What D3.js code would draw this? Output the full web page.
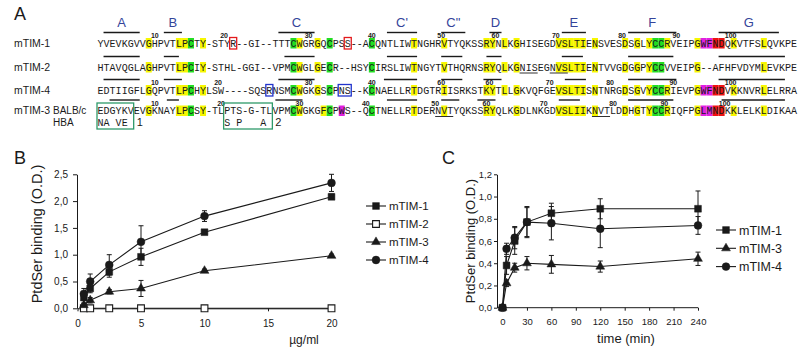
<!DOCTYPE html>
<html><head><meta charset="utf-8">
<script src="https://cdn.jsdelivr.net/npm/d3@7"></script>
<style>body{margin:0;background:#fff} svg{display:block}</style>
</head><body><svg id="c" width="800" height="351"></svg>
<script>
// ---------------- DATA ----------------
const rowNames = ["mTIM-1", "mTIM-2", "mTIM-4", "mTIM-3"];
const sequences = [
  "YVEVKGVVGHPVTLPCTY-STYR--GI--TTTCWGRGQCPSS--ACQNTLIWTNGHRVTYQKSSRYNLKGHISEGDVSLTIENSVESDSGLYCCRVEIPGWFNDQKVTFSLQVKPE",
  "HTAVQGLAGHPVTLPCIY-STHL-GGI--VPMCWGLGECR--HSYCIRSLIWTNGYTVTHQRNSRYQLKGNISEGNVSLTIENTVVGDGGPYCCVVEIPG--AFHFVDYMLEVKPE",
  "EDTIIGFLGQPVTLPCHYLSW----SQSRNSMCWGKGSCPNS--KCNAELLRTDGTRIISRKSTKYTLLGKVQFGEVSLTISNTNRGDSGVYCCRIEVPGWFNDVKKNVRLELRRA",
  "EDGYKVEVGKNAYLPCSY-TLPTS-G-TLVPMCWGKGFCPWS--QCTNELLRTDERNVTYQKSSRYQLKGDLNKGDVSLIIKNVTLDDHGTYCCRIQFPGLMNDKKLELKLDIKAA"
];
const hbaVariants = [[1, "NA VE"], [22, "S P   A"]];
const hbaBoxes = [[1, 6, "1"], [22, 29, "2"]];
const segLabels = ["A", "B", "C", "C'", "C\"", "D", "E", "F", "G"];
const segBars = [
  [[1,7],[11,14],[30,36],[48,53],[57,61],[65,67],[77,81],[88,96],[103,113]],
  [[1,7],[11,13.5],[31,36],[48,53],[57,60.5],[64.5,67],[77,80.5],[88,95.5],[103,114]],
  [[1,7],[11,14],[30,36],[47.5,53],[57,60.5],[64,67],[77.5,81],[88,96],[103,114]],
  [[2,7],[11.5,13.5],[29.5,34],[48,53],[57,60],[63,66],[76.5,80],[88,95.5],[103.5,114]]
];
const posNumbers = [
  [[9.5,"10"],[21,"20"],[35,"30"],[45.5,"40"],[57,"50"],[66,"60"],[76,"70"],[87,"80"],[96,"90"],[105,"100"]],
  [],
  [[9.5,"10"],[20,"20"],[35,"30"],[45.5,"40"],[57,"60"],[65,"60"],[75,"70"],[85,"80"],[95.5,"90"],[105,"100"]],
  [[9.5,"10"],[20.5,"20"],[33.5,"30"],[44.5,"40"],[56,"50"],[64.5,"60"],[74,"70"],[85.5,"80"],[94,"90"],[104,"100"]]
];
const yellowPos = [
  [9,14,15,18,34,37,53,58,65,66,68,70,77,78,79,80,81,83,88,90,92,95,100,106,111],
  [9,14,15,18,34,37,53,58,65,66,68,70,77,78,79,80,81,83,88,90,92,100,111],
  [9,14,15,18,34,37,53,58,65,66,68,70,77,78,79,80,81,83,88,90,92,95,100,106,111],
  [9,14,15,18,34,38,53,58,65,66,70,77,78,79,80,81,83,88,90,92,95,100,106,111]
];
const greenPos = [16,33,39,46,93,94];
const magentaPos = [[101,102], [], [101,102], [41,101,102]];
const redPos = [[103,104], [], [103,104], [103,104]];
const redBoxes = [[0,23,23],[0,42,42]];
const blueBoxes = [[2,29,29],[2,41,42]];
const underlines = [[1,71,73],[1,76,78],[3,57,59],[3,83,85]];

// Panel B
const concB = [0.5, 1, 2.5, 5, 10, 20];
const bTIM1 = [0.20, 0.37, 0.68, 0.96, 1.42, 2.08];
const bTIM1err = [0.10, 0.08, 0.10, 0.16, 0.04, 0.05];
const bTIM2 = [0, 0, 0, 0, 0, 0];
const bTIM2err = [0, 0, 0, 0, 0, 0];
const bTIM3 = [0.06, 0.15, 0.31, 0.37, 0.70, 0.98];
const bTIM3err = [0.03, 0.05, 0.04, 0.15, 0.03, 0.03];
const bTIM4 = [0.27, 0.50, 0.81, 1.24, 1.72, 2.34];
const bTIM4err = [0.10, 0.14, 0.19, 0.30, 0.10, 0.16];
const bTicksX = [0, 5, 10, 15, 20];
const bTicksY = [0, 0.5, 1, 1.5, 2, 2.5];

// Panel C
const timeC = [0, 5, 15, 30, 60, 120, 240];
const cTIM1 = [0, 0.38, 0.60, 0.77, 0.85, 0.89, 0.89];
const cTIM1err = [0, 0.08, 0.12, 0.14, 0.09, 0.09, 0.16];
const cTIM3 = [0, 0.22, 0.36, 0.40, 0.39, 0.37, 0.44];
const cTIM3err = [0, 0.03, 0.04, 0.06, 0.08, 0.05, 0.06];
const cTIM4 = [0, 0.53, 0.63, 0.77, 0.76, 0.71, 0.74];
const cTIM4err = [0, 0.05, 0.10, 0.13, 0.15, 0.17, 0.08];
const cTicksX = [0, 30, 60, 90, 120, 150, 180, 210, 240];
const cTicksY = [0, 0.2, 0.4, 0.6, 0.8, 1.0, 1.2];

// ---------------- DRAW ----------------
const svg = d3.select("#c");
const sans = "Liberation Sans, Arial, sans-serif";
const mono = "Liberation Mono, Courier New, monospace";
const ink = "#1a1a1a";

// ===== Panel A =====
svg.append("text").attr("x", 14).attr("y", 20).attr("font-family", sans)
  .attr("font-size", 18).attr("fill", ink).text("A");

const x0 = 97.5, cw = 6.03;
const colX = c => x0 + c * cw;
const posL = p => colX(p - 1);
const baselines = [46.5, 70.5, 93.5, 114];
const A = svg.append("g");

segBars[0].forEach((b, i) => {
  A.append("text").attr("x", (colX(b[0]) + colX(b[1])) / 2).attr("y", 27)
    .attr("text-anchor", "middle").attr("font-family", sans).attr("font-size", 13)
    .attr("fill", "#34449a").text(segLabels[i]);
});

sequences.forEach((seq, r) => {
  const yb = baselines[r];
  const hl = (pos, color) => {
    A.append("rect").attr("x", posL(pos)).attr("y", yb - 8.5)
      .attr("width", cw).attr("height", 10.5).attr("fill", color);
  };
  yellowPos[r].forEach(p => hl(p, "#f7f700"));
  greenPos.forEach(p => hl(p, "#22dd22"));
  magentaPos[r].forEach(p => hl(p, "#e020e0"));
  redPos[r].forEach(p => hl(p, "#ee1111"));

  segBars[r].forEach(b => {
    A.append("line").attr("x1", colX(b[0])).attr("x2", colX(b[1]))
      .attr("y1", yb - 14).attr("y2", yb - 14).attr("stroke", ink).attr("stroke-width", 1.4);
  });
  const g = A.append("g").attr("font-family", mono).attr("font-size", 10).attr("fill", ink)
    .attr("text-anchor", "middle");
  seq.split("").forEach((ch, i) => {
    g.append("text").attr("x", colX(i + 0.5)).attr("y", yb).text(ch);
  });
  posNumbers[r].forEach(([c, t]) => {
    A.append("text").attr("x", colX(c)).attr("y", yb - 8.5).attr("text-anchor", "middle")
      .attr("font-family", sans).attr("font-size", 7).attr("font-weight", "bold")
      .attr("fill", ink).text(t);
  });
  A.append("text").attr("x", 14).attr("y", yb).attr("font-family", sans)
    .attr("font-size", 10.5).attr("fill", ink).text(rowNames[r]);
});

const box = (r, p1, p2, color) => {
  A.append("rect").attr("x", posL(p1) - 0.5).attr("y", baselines[r] - 9)
    .attr("width", (p2 - p1 + 1) * cw + 1).attr("height", 11.5)
    .attr("fill", "none").attr("stroke", color).attr("stroke-width", 1.3);
};
redBoxes.forEach(([r, a, b]) => box(r, a, b, "#e31a1c"));
blueBoxes.forEach(([r, a, b]) => box(r, a, b, "#2233cc"));
underlines.forEach(([r, a, b]) => {
  A.append("line").attr("x1", posL(a)).attr("x2", posL(b + 1))
    .attr("y1", baselines[r] + 2.5).attr("y2", baselines[r] + 2.5)
    .attr("stroke", ink).attr("stroke-width", 0.9);
});

A.append("text").attr("x", 53).attr("y", baselines[3]).attr("font-family", sans)
  .attr("font-size", 10).attr("fill", ink).text("BALB/c");
A.append("text").attr("x", 53).attr("y", baselines[3] + 11.5).attr("font-family", sans)
  .attr("font-size", 10).attr("fill", ink).text("HBA");
const g2 = A.append("g").attr("font-family", mono).attr("font-size", 10).attr("fill", ink)
  .attr("text-anchor", "middle");
hbaVariants.forEach(([p, s]) => {
  s.split("").forEach((ch, i) => {
    if (ch !== " ") g2.append("text").attr("x", posL(p + i) + cw / 2)
      .attr("y", baselines[3] + 11.5).text(ch);
  });
});
hbaBoxes.forEach(([a, b, lab]) => {
  A.append("rect").attr("x", posL(a) - 0.5).attr("y", baselines[3] - 11)
    .attr("width", (b - a + 1) * cw + 0.5).attr("height", 26)
    .attr("fill", "none").attr("stroke", "#2e9a6a").attr("stroke-width", 1.3);
  A.append("text").attr("x", posL(b + 1) + 3).attr("y", baselines[3] + 11.5)
    .attr("font-family", sans).attr("font-size", 11).attr("fill", ink).text(lab);
});

// ===== shared plotting helpers =====
const fmt = d => d3.format(".1f")(d).replace(".", ",");
const symbolOf = {
  square: d3.symbol().type(d3.symbolSquare).size(46),
  circle: d3.symbol().type(d3.symbolCircle).size(48),
  triangle: d3.symbol().type(d3.symbolTriangle).size(34)
};

function drawSeries(g, xs, ys, errs, x, y, shape, open) {
  const pts = xs.map((v, i) => [v, ys[i], errs[i]]);
  pts.forEach(([a, b, e]) => {
    if (e > 0) {
      const cx = x(a);
      g.append("line").attr("x1", cx).attr("x2", cx).attr("y1", y(b - e)).attr("y2", y(b + e))
        .attr("stroke", ink).attr("stroke-width", 1);
      [b - e, b + e].forEach(v => g.append("line").attr("x1", cx - 2.5).attr("x2", cx + 2.5)
        .attr("y1", y(v)).attr("y2", y(v)).attr("stroke", ink).attr("stroke-width", 1));
    }
  });
  g.append("path").datum(pts).attr("fill", "none").attr("stroke", ink).attr("stroke-width", 1.1)
    .attr("d", d3.line().x(d => x(d[0])).y(d => y(d[1])));
  g.selectAll(null).data(pts).enter().append("path")
    .attr("transform", d => `translate(${x(d[0])},${y(d[1])})`)
    .attr("d", symbolOf[shape]())
    .attr("fill", open ? "#fff" : ink).attr("stroke", ink).attr("stroke-width", open ? 1.1 : 0.5);
}

function legend(g, items, lx, ly, dy, fs) {
  items.forEach(([name, shape, open], i) => {
    const yy = ly + i * dy;
    g.append("line").attr("x1", lx).attr("x2", lx + 20).attr("y1", yy).attr("y2", yy)
      .attr("stroke", ink).attr("stroke-width", 1.1);
    g.append("path").attr("transform", `translate(${lx + 10},${yy})`).attr("d", symbolOf[shape]())
      .attr("fill", open ? "#fff" : ink).attr("stroke", ink).attr("stroke-width", open ? 1.1 : 0.5);
    g.append("text").attr("x", lx + 23).attr("y", yy + fs * 0.36).attr("font-family", sans)
      .attr("font-size", fs).attr("fill", ink).text(name);
  });
}

function styleAxis(sel, fs) {
  sel.selectAll("path.domain").attr("stroke", ink);
  sel.selectAll(".tick line").attr("stroke", ink);
  sel.selectAll(".tick text").attr("font-family", sans).attr("font-size", fs).attr("fill", ink);
}

// ===== Panel B =====
const B = svg.append("g");
const xB = d3.scaleLinear().domain([0, 20]).range([77.5, 331.5]);
const yB = d3.scaleLinear().domain([0, 2.5]).range([308.3, 174.3]);
B.append("text").attr("x", 14).attr("y", 164).attr("font-family", sans)
  .attr("font-size", 18).attr("fill", ink).text("B");
const axYB = B.append("g").attr("transform", "translate(77,0)")
  .call(d3.axisLeft(yB).tickValues(bTicksY).tickFormat(fmt).tickSize(4).tickSizeOuter(0).tickPadding(5));
styleAxis(axYB, 10);
const axXB = B.append("g").attr("transform", "translate(0,308.3)")
  .call(d3.axisBottom(xB).tickValues(bTicksX).tickSize(3).tickSizeOuter(0).tickPadding(9));
styleAxis(axXB, 10);
B.append("text").attr("transform", "translate(42,234) rotate(-90)").attr("text-anchor", "middle")
  .attr("font-family", sans).attr("font-size", 14.5).attr("fill", ink).text("PtdSer  binding (O.D.)");
B.append("text").attr("x", 304).attr("y", 344).attr("text-anchor", "middle")
  .attr("font-family", sans).attr("font-size", 12).attr("fill", ink).text("µg/ml");
drawSeries(B, concB, bTIM2, bTIM2err, xB, yB, "square", true);
drawSeries(B, concB, bTIM3, bTIM3err, xB, yB, "triangle", false);
drawSeries(B, concB, bTIM1, bTIM1err, xB, yB, "square", false);
drawSeries(B, concB, bTIM4, bTIM4err, xB, yB, "circle", false);
legend(B, [["mTIM-1","square",false],["mTIM-2","square",true],["mTIM-3","triangle",false],["mTIM-4","circle",false]],
  366, 206, 18, 11.5);

// ===== Panel C =====
const C = svg.append("g");
const xC = d3.scaleLinear().domain([0, 240]).range([502.5, 698]);
const yC = d3.scaleLinear().domain([0, 1.2]).range([307.7, 174.3]);
C.append("text").attr("x", 442).attr("y", 164).attr("font-family", sans)
  .attr("font-size", 18).attr("fill", ink).text("C");
const axYC = C.append("g").attr("transform", "translate(497,0)")
  .call(d3.axisLeft(yC).tickValues(cTicksY).tickFormat(fmt).tickSize(3).tickSizeOuter(0).tickPadding(2));
styleAxis(axYC, 9.5);
C.append("line").attr("x1", 497).attr("x2", 698).attr("y1", 307.7).attr("y2", 307.7).attr("stroke", ink);
const axXC = C.append("g").attr("transform", "translate(0,307.7)")
  .call(d3.axisBottom(xC).tickValues(cTicksX).tickSize(3).tickSizeOuter(0).tickPadding(8));
axXC.select("path.domain").remove();
styleAxis(axXC, 9.5);
C.append("text").attr("transform", "translate(475,241) rotate(-90)").attr("text-anchor", "middle")
  .attr("font-family", sans).attr("font-size", 13).attr("fill", ink).text("PtdSer binding (O.D.)");
C.append("text").attr("x", 626).attr("y", 343).attr("text-anchor", "middle")
  .attr("font-family", sans).attr("font-size", 13).attr("fill", ink).text("time (min)");
drawSeries(C, timeC, cTIM3, cTIM3err, xC, yC, "triangle", false);
drawSeries(C, timeC, cTIM4, cTIM4err, xC, yC, "circle", false);
drawSeries(C, timeC, cTIM1, cTIM1err, xC, yC, "square", false);
legend(C, [["mTIM-1","square",false],["mTIM-3","triangle",false],["mTIM-4","circle",false]],
  716, 230, 18.3, 12.5);
</script></body></html>
